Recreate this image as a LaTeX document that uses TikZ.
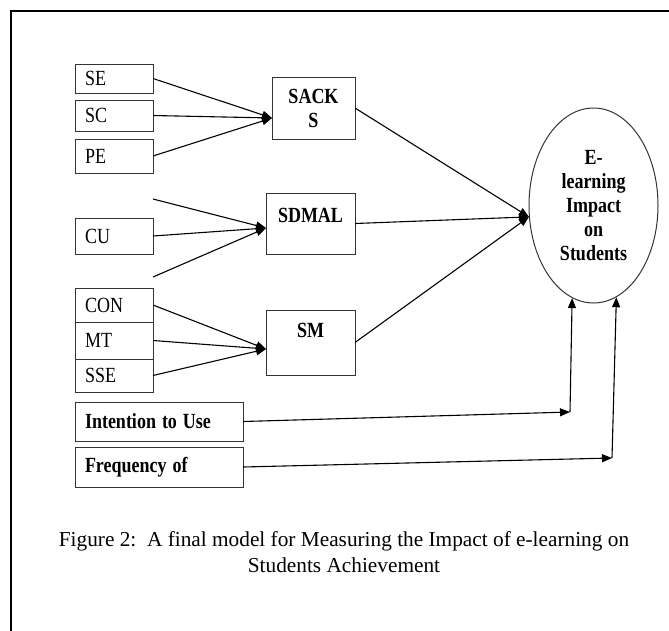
\documentclass[tikz,border=0pt]{standalone}
\usepackage{fontspec}
\usepackage{graphicx}
\setmainfont{Liberation Serif}
\usetikzlibrary{arrows.meta,shapes.geometric}

% Texto del diagrama algo estirado en vertical
\newcommand{\estira}[1]{\scalebox{1}[1.2]{#1}}

\begin{document}
\begin{tikzpicture}[x=1pt,y=-1pt,
    caja/.style={draw=black!80, line width=1pt, inner sep=0pt, outer sep=0pt,
      font=\fontsize{18}{22}\selectfont},
    var/.style={caja, minimum width=78pt, text width=58pt, align=left},
    constructo/.style={caja, font=\fontsize{18}{24}\selectfont\bfseries, align=center},
    flecha/.style={line width=1.1pt, -{Triangle[length=10pt,width=8pt]}}]

  % Marco y tamaño de la figura
  \useasboundingbox (0,0) rectangle (669,630);
  \draw[line width=2pt] (11,632) -- (11,11) -- (671,11);

  % Variables observadas (columna izquierda)
  \node[var, minimum height=29pt] (se)  at (114,78.5)  {\estira{SE}};
  \node[var, minimum height=31pt] (sc)  at (114,115.5) {\estira{SC}};
  \node[var, minimum height=34pt] (pe)  at (114,156)   {\estira{PE}};
  \node[var, minimum height=36pt] (cu)  at (114,236)   {\estira{CU}};
  \node[var, minimum height=34pt] (con) at (114,305)   {\estira{CON}};
  \node[var, minimum height=37pt] (mt)  at (114,340.5) {\estira{MT}};
  \node[var, minimum height=33pt] (sse) at (114,375.5) {\estira{SSE}};

  % Constructos intermedios
  \node[constructo, minimum width=83pt, minimum height=62pt] (sacks) at (313.5,108)
    {\estira{SACK}\\\estira{S}};
  \node[constructo, minimum width=89pt, minimum height=61pt,
        text height=29pt, text depth=32pt] (sdmal) at (310.5,223.5) {\estira{SDMAL}};
  \node[constructo, minimum width=89pt, minimum height=65pt,
        text height=27pt, text depth=38pt] (sm) at (310.5,342.5) {\estira{SM}};

  % Variables de uso
  \node[caja, font=\fontsize{18}{22}\selectfont\bfseries, minimum width=168pt,
        minimum height=39pt, text width=148pt, align=left] (intencion) at (159,421.5)
    {\estira{Intention to Use}};
  \node[caja, font=\fontsize{18}{22}\selectfont\bfseries, minimum width=168pt,
        minimum height=40pt, text width=148pt, align=left] (frecuencia) at (159,467)
    {\estira{Frequency of}};

  % Variable dependiente
  \node[draw=black!80, line width=1pt, ellipse, minimum width=129pt, minimum height=195pt,
        inner sep=0pt, font=\fontsize{18}{24}\selectfont\bfseries, align=center]
        (impacto) at (593.5,205.5)
    {\estira{E-}\\\estira{learning}\\\estira{Impact}\\\estira{on}\\\estira{Students}};

  % Puntos de llegada y extremos libres
  \coordinate (entS) at ([yshift=-10pt]sacks.west);
  \coordinate (entD) at ([yshift=-4.5pt]sdmal.west);
  \coordinate (entM) at ([yshift=-6.5pt]sm.west);
  \coordinate (libreA) at (153,199);
  \coordinate (libreB) at (153,277);
  \coordinate (giroI) at (570,412);
  \coordinate (giroF) at (612,458);

  % Flechas hacia los constructos
  \foreach \v in {se,sc,pe}{
    \draw[flecha] (\v.east) -- (entS);
  }
  \foreach \v in {libreA,cu.east,libreB}{
    \draw[flecha] (\v) -- (entD);
  }
  \foreach \v in {con,mt,sse}{
    \draw[flecha] (\v.east) -- (entM);
  }

  % Flechas hacia el impacto
  \foreach \v in {sacks,sdmal,sm}{
    \draw[flecha] (\v.east) -- (impacto.190);
  }
  \draw[flecha] (intencion.east) -- (giroI);
  \draw[flecha] (giroI) -- (impacto.-103);
  \draw[flecha] (frecuencia.east) -- (giroF);
  \draw[flecha] (giroF) -- (impacto.-76);

  % Leyenda
  \node[font=\fontsize{21.3}{26}\selectfont, align=center] (leyenda) at (344,552)
    {Figure 2:\ \ A final model for Measuring the Impact of e-learning on\\Students Achievement};

\end{tikzpicture}
\end{document}
